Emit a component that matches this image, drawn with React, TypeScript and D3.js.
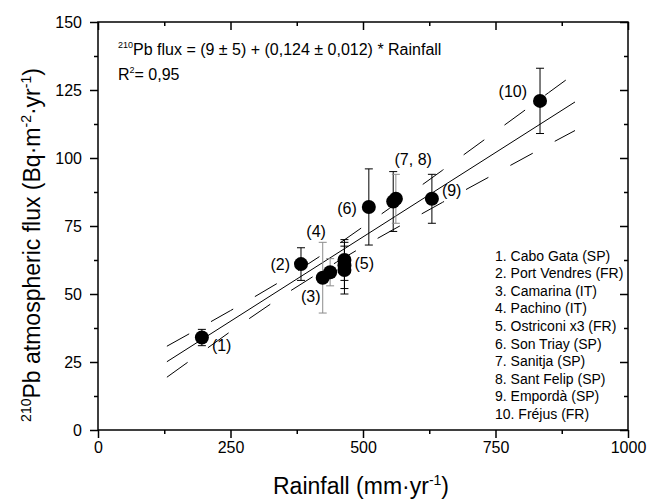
import React, { useRef, useEffect } from "react";
import * as d3 from "d3";

// site names for the legend box
const sites = [
  "1. Cabo Gata (SP)",
  "2. Port Vendres (FR)",
  "3. Camarina (IT)",
  "4. Pachino (IT)",
  "5. Ostriconi x3 (FR)",
  "6. Son Triay (SP)",
  "7. Sanitja (SP)",
  "8. Sant Felip (SP)",
  "9. Empordà (SP)",
  "10. Fréjus (FR)",
];

// measured points (Ostriconi has three)
const rainfall = [196, 383, 424, 438, 465, 465, 465, 511, 557, 562, 630, 834];
const flux = [34, 61, 56, 58, 62.5, 60.5, 58.8, 82, 84, 85, 85, 121];
const fluxErr = [3, 6, 13, 5, 7.5, 8.5, 8.8, 14, 11, 9, 9, 12];

// point labels and the point each one sits next to
const pointLabels = ["(1)", "(2)", "(3)", "(4)", "(5)", "(6)", "(7, 8)", "(9)", "(10)"];
const labelPoint = [0, 1, 2, 3, 5, 7, 8, 10, 11];

// linear fit and its 95% band
const fitX = [130, 900];
const fitY = [25.1, 120.6];
const bandX = [130, 200, 250, 300, 350, 400, 450, 500, 550, 600, 650, 700, 750, 800, 850, 900];
const bandUpper = [30.8, 38.4, 43.9, 49.5, 55.3, 61.5, 67.9, 74.7, 81.5, 88.5, 95.5, 102.6, 109.7, 116.8, 124.0, 131.1];
const bandLower = [19.4, 29.2, 36.2, 42.9, 49.5, 55.7, 61.7, 67.4, 72.9, 78.3, 83.7, 89.0, 94.3, 99.6, 104.9, 110.1];

const xTicks = [0, 250, 500, 750, 1000];
const xMinor = [125, 375, 625, 875];
const yTicks = [0, 25, 50, 75, 100, 125, 150];
const yMinor = [12.5, 37.5, 62.5, 87.5, 112.5, 137.5];

// layout only: label offsets in px from the point
const labelPlace = [
  { dx: 10, dy: 8, anchor: "start" },
  { dx: -11, dy: 0, anchor: "end" },
  { dx: -12, dy: 19, anchor: "middle" },
  { dx: -14, dy: -41, anchor: "middle" },
  { dx: 10, dy: -2, anchor: "start" },
  { dx: -12, dy: 1, anchor: "end" },
  { dx: 20, dy: -42, anchor: "middle" },
  { dx: 10, dy: -8, anchor: "start" },
  { dx: -13, dy: -9, anchor: "end" },
];
const greyBars = [2, 3, 9];

const FONT = "'Liberation Sans', Arial, sans-serif";

const App = () => {
  const svgRef = useRef<SVGSVGElement>(null);

  useEffect(() => {
    const svg = d3.select(svgRef.current);
    svg.selectAll("*").remove();

    const x = d3.scaleLinear().domain([0, 1000]).range([98, 628]);
    const y = d3.scaleLinear().domain([0, 150]).range([430, 22]);
    const noLabel = () => "";

    //axes: left/bottom ticks out, top/right ticks in
    const styleAxis = (g: any) => {
      g.select(".domain").remove();
      g.selectAll("line").attr("stroke", "#000").attr("stroke-width", 1.5);
      g.selectAll("text").attr("font-family", FONT).attr("font-size", 16).attr("fill", "#000");
    };
    svg.append("g").attr("transform", "translate(0,430)")
      .call(d3.axisBottom(x).tickValues(xTicks).tickSize(8).tickPadding(4).tickFormat(d3.format("d"))).call(styleAxis);
    svg.append("g").attr("transform", "translate(0,430)")
      .call(d3.axisBottom(x).tickValues(xMinor).tickSize(4).tickFormat(noLabel)).call(styleAxis);
    svg.append("g").attr("transform", "translate(98,0)")
      .call(d3.axisLeft(y).tickValues(yTicks).tickSize(8).tickPadding(8).tickFormat(d3.format("d"))).call(styleAxis);
    svg.append("g").attr("transform", "translate(98,0)")
      .call(d3.axisLeft(y).tickValues(yMinor).tickSize(4).tickFormat(noLabel)).call(styleAxis);
    svg.append("g").attr("transform", "translate(0,22)")
      .call(d3.axisTop(x).tickValues(xTicks).tickSize(-8).tickFormat(noLabel)).call(styleAxis);
    svg.append("g").attr("transform", "translate(0,22)")
      .call(d3.axisTop(x).tickValues(xMinor).tickSize(-4).tickFormat(noLabel)).call(styleAxis);
    svg.append("g").attr("transform", "translate(628,0)")
      .call(d3.axisRight(y).tickValues(yTicks).tickSize(-8).tickFormat(noLabel)).call(styleAxis);
    svg.append("g").attr("transform", "translate(628,0)")
      .call(d3.axisRight(y).tickValues(yMinor).tickSize(-4).tickFormat(noLabel)).call(styleAxis);

    svg.append("rect")
      .attr("x", x(0)).attr("y", y(150))
      .attr("width", x(1000) - x(0)).attr("height", y(0) - y(150))
      .attr("fill", "none").attr("stroke", "#000").attr("stroke-width", 1.5);

    //fit line + confidence band
    const bandLine = d3.line<number>().x((d, i) => x(bandX[i])).y((d) => y(d)).curve(d3.curveMonotoneX);
    [bandUpper, bandLower].forEach((b) => {
      svg.append("path").attr("d", bandLine(b)).attr("fill", "none")
        .attr("stroke", "#000").attr("stroke-width", 1).attr("stroke-dasharray", "25.5 25");
    });
    const fitLine = d3.line<number>().x((d, i) => x(fitX[i])).y((d) => y(d));
    svg.append("path").attr("d", fitLine(fitY)).attr("fill", "none").attr("stroke", "#000").attr("stroke-width", 1);

    //error bars
    const bars = svg.append("g");
    rainfall.forEach((r, i) => {
      const c = greyBars.includes(i) ? "#8c8c8c" : "#000";
      const px = x(r);
      const y1 = y(flux[i] - fluxErr[i]);
      const y2 = y(flux[i] + fluxErr[i]);
      bars.append("line").attr("x1", px).attr("x2", px).attr("y1", y1).attr("y2", y2).attr("stroke", c);
      [y1, y2].forEach((yy) => {
        bars.append("line").attr("x1", px - 4).attr("x2", px + 4).attr("y1", yy).attr("y2", yy).attr("stroke", c);
      });
    });

    svg.append("g").selectAll("circle").data(rainfall).join("circle")
      .attr("cx", (d) => x(d)).attr("cy", (d, i) => y(flux[i])).attr("r", 7).attr("fill", "#000");

    //point labels
    svg.append("g").selectAll("text").data(pointLabels).join("text")
      .attr("x", (d, i) => x(rainfall[labelPoint[i]]) + labelPlace[i].dx)
      .attr("y", (d, i) => y(flux[labelPoint[i]]) + labelPlace[i].dy)
      .attr("dy", "0.35em")
      .attr("text-anchor", (d, i) => labelPlace[i].anchor)
      .attr("font-family", FONT).attr("font-size", 16)
      .text((d) => d);

    //legend
    svg.append("g").selectAll("text").data(sites).join("text")
      .attr("x", 495).attr("y", (d, i) => 260.5 + i * 17.6)
      .attr("font-family", FONT).attr("font-size", 14)
      .text((d) => d);

    //equation
    const eq = svg.append("text").attr("x", 118).attr("y", 55).attr("font-family", FONT).attr("font-size", 16);
    eq.append("tspan").attr("font-size", 9).attr("dy", -7).text("210");
    eq.append("tspan").attr("dy", 7).text("Pb flux = (9 ± 5) + (0,124 ± 0,012) * Rainfall");
    const r2 = svg.append("text").attr("x", 118).attr("y", 80).attr("font-family", FONT).attr("font-size", 16);
    r2.append("tspan").text("R");
    r2.append("tspan").attr("font-size", 9).attr("dy", -7).text("2");
    r2.append("tspan").attr("dy", 7).text("= 0,95");

    //axis titles
    const xt = svg.append("text").attr("x", 361).attr("y", 494).attr("text-anchor", "middle")
      .attr("font-family", FONT).attr("font-size", 23);
    xt.append("tspan").text("Rainfall (mm·yr");
    xt.append("tspan").attr("font-size", 14).attr("dy", -9).text("-1");
    xt.append("tspan").attr("dy", 9).text(")");

    const yt = svg.append("text").attr("transform", "translate(40,245) rotate(-90)").attr("text-anchor", "middle")
      .attr("font-family", FONT).attr("font-size", 23);
    yt.append("tspan").attr("font-size", 14).attr("dy", -9).text("210");
    yt.append("tspan").attr("dy", 9).text("Pb atmospheric flux (Bq·m");
    yt.append("tspan").attr("font-size", 14).attr("dy", -9).text("-2");
    yt.append("tspan").attr("dy", 9).text("·yr");
    yt.append("tspan").attr("font-size", 14).attr("dy", -9).text("-1");
    yt.append("tspan").attr("dy", 9).text(")");
  }, []);

  return (
    <svg
      ref={svgRef}
      width={660}
      height={502}
      style={{ position: "absolute", left: 0, top: 0, background: "#fff" }}
    />
  );
};

export default App;
